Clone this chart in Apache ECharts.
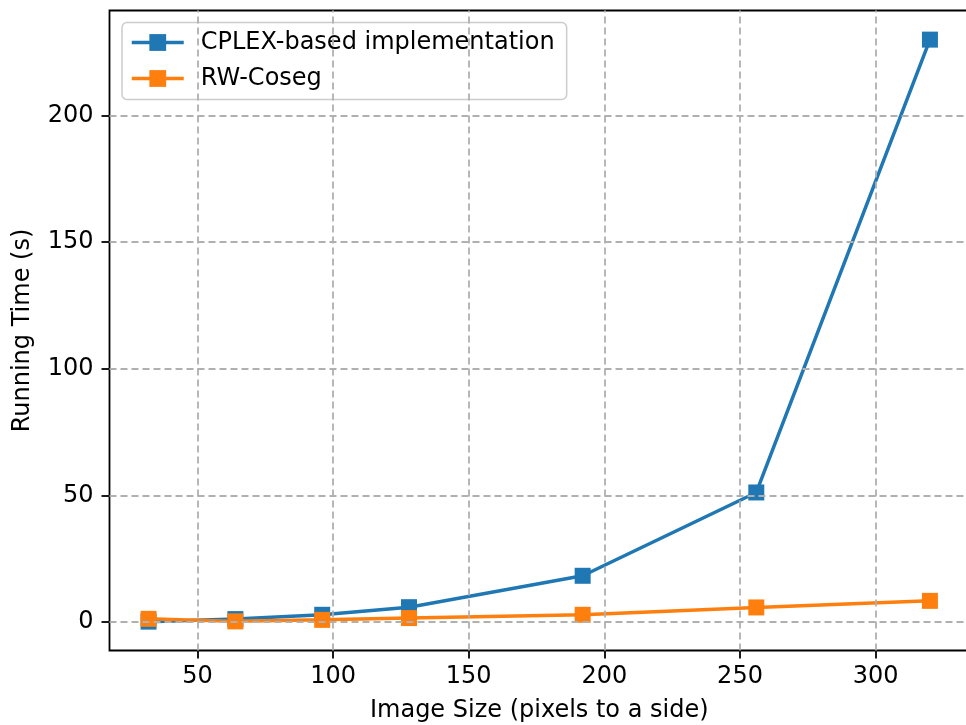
<!DOCTYPE html>
<html>
<head>
<meta charset="utf-8">
<script src="https://cdn.jsdelivr.net/npm/echarts@6/dist/echarts.min.js"></script>
<style>html,body{margin:0;padding:0;background:#fff;overflow:hidden;}#c{width:966px;height:725px;}</style>
</head>
<body>
<div id="c"></div>
<script>
const sizes = [32, 64, 96, 128, 192, 256, 320];
const cplex = [0.2, 1.2, 2.9, 5.9, 18.3, 51.2, 230];
const rwCoseg = [1.3, 0.3, 0.9, 1.6, 2.9, 5.8, 8.4];
const xTicks = [50, 100, 150, 200, 250, 300];
const yTicks = [0, 50, 100, 150, 200];
const seriesNames = ['CPLEX-based implementation', 'RW-Coseg'];

const FONT = 'DejaVu Sans';
const chart = echarts.init(document.getElementById('c'), null, {renderer: 'canvas'});
const pair = (xs, ys) => xs.map((x, i) => [x, ys[i]]);

const gridLines = xTicks.map(v => ({xAxis: v})).concat(yTicks.map(v => ({yAxis: v})));

chart.setOption({
  animation: false,
  backgroundColor: '#fff',
  grid: {left: 109.5, right: -3, top: 10.5, bottom: 74.5, containLabel: false, outerBoundsMode: 'none',
    show: true, borderColor: '#000', borderWidth: 1.8, backgroundColor: 'transparent'},
  xAxis: {
    type: 'value', min: 17.6, max: 334.4,
    name: 'Image Size (pixels to a side)', nameLocation: 'middle', nameGap: 48,
    nameTextStyle: {fontFamily: FONT, fontSize: 24, color: '#000'},
    axisLine: {show: false, onZero: false},
    axisTick: {show: true, customValues: xTicks, length: 8, lineStyle: {color: '#000', width: 1.8}},
    axisLabel: {customValues: xTicks, fontFamily: FONT, fontSize: 24, color: '#000', margin: 14},
    splitLine: {show: false}
  },
  yAxis: {
    type: 'value', min: -11.2, max: 241.5,
    name: 'Running Time (s)', nameLocation: 'middle', nameGap: 75,
    nameTextStyle: {fontFamily: FONT, fontSize: 24, color: '#000'},
    axisLine: {show: false, onZero: false},
    axisTick: {show: true, customValues: yTicks, length: 8, lineStyle: {color: '#000', width: 1.8}},
    axisLabel: {customValues: yTicks, fontFamily: FONT, fontSize: 24, color: '#000', margin: 16},
    splitLine: {show: false}
  },
  legend: {
    data: seriesNames,
    orient: 'vertical', left: 122, top: 22.5,
    padding: [8, 12, 9, 8],
    itemWidth: 52, itemHeight: 21, itemGap: 12,
    lineStyle: {width: 3.5},
    backgroundColor: 'rgba(255,255,255,0.8)', borderColor: '#cccccc', borderWidth: 1.5, borderRadius: 5,
    textStyle: {fontFamily: FONT, fontSize: 24, color: '#000', padding: [0, 0, 0, 12]}
  },
  series: [
    {
      name: 'grid', type: 'line', data: [], z: 1, silent: true,
      markLine: {silent: true, symbol: ['none', 'none'], label: {show: false},
        lineStyle: {color: '#b0b0b0', type: [7, 4], width: 1.8}, data: gridLines, animation: false}
    },
    {
      name: seriesNames[0], type: 'line', data: pair(sizes, cplex), z: 3,
      symbol: 'rect', symbolSize: 16,
      lineStyle: {color: '#1f77b4', width: 3.5},
      itemStyle: {color: '#1f77b4'}
    },
    {
      name: seriesNames[1], type: 'line', data: pair(sizes, rwCoseg), z: 4,
      symbol: 'rect', symbolSize: 16,
      lineStyle: {color: '#ff7f0e', width: 3.5},
      itemStyle: {color: '#ff7f0e'}
    }
  ]
});
</script>
</body>
</html>
